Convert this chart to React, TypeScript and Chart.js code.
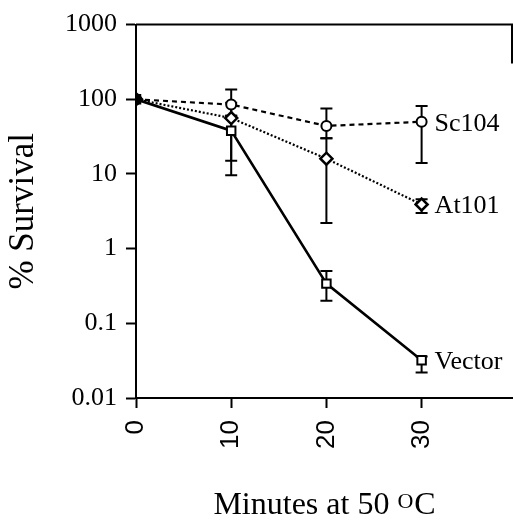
import React, { useEffect, useRef } from 'react';
import { Chart, registerables } from 'chart.js';
Chart.register(...registerables);

// ---- data ----
const minutes = [0, 10, 20, 30];
const seriesNames = ['Sc104', 'At101', 'Vector'];
const sc104 = [100, 85, 44, 50];
const sc104Low = [100, 60, 30, 14];
const sc104High = [100, 135, 75, 81];
const at101 = [100, 56, 16, 3.9];
const at101Low = [100, 15, 2.2, 3.0];
const at101High = [100, 90, 30, 4.6];
const vector = [100, 38, 0.34, 0.032];
const vectorLow = [100, 9.6, 0.2, 0.022];
const vectorHigh = [100, 60, 0.5, 0.036];
const xTicks = [0, 10, 20, 30];
const yTicks = [0.01, 0.1, 1, 10, 100, 1000];
const yTickLabels = ['0.01', '0.1', '1', '10', '100', '1000'];
const xTitleParts = ['Minutes at 50 ', 'O', 'C'];
const yTitle = '% Survival';

const SERIF = '"Liberation Serif", "Times New Roman", serif';
const SANS = '"Liberation Sans", Arial, sans-serif';

const lows = [sc104Low, at101Low, vectorLow];
const highs = [sc104High, at101High, vectorHigh];

const errorBarPlugin = {
  id: 'errorBars',
  beforeDatasetsDraw(chart: any) {
    const { ctx, scales } = chart;
    const xs = scales.x, ys = scales.y;
    ctx.save();
    ctx.strokeStyle = '#000';
    ctx.lineWidth = 2;
    ctx.setLineDash([]);
    lows.forEach((low, si) => {
      const high = highs[si];
      minutes.forEach((m, i) => {
        if (low[i] === high[i]) return;
        const px = xs.getPixelForValue(m);
        const y1 = ys.getPixelForValue(low[i]);
        const y2 = ys.getPixelForValue(high[i]);
        ctx.beginPath();
        ctx.moveTo(px, y1);
        ctx.lineTo(px, y2);
        ctx.moveTo(px - 6, y1);
        ctx.lineTo(px + 6, y1);
        ctx.moveTo(px - 6, y2);
        ctx.lineTo(px + 6, y2);
        ctx.stroke();
      });
    });
    ctx.restore();
  },
};

const labelsPlugin = {
  id: 'seriesLabels',
  afterDraw(chart: any) {
    const { ctx, scales, chartArea } = chart;
    const xs = scales.x, ys = scales.y;
    const series = [sc104, at101, vector];
    ctx.save();
    ctx.fillStyle = '#000';
    ctx.font = `26px ${SERIF}`;
    ctx.textAlign = 'left';
    ctx.textBaseline = 'middle';
    series.forEach((s, si) => {
      const last = s.length - 1;
      const px = xs.getPixelForValue(minutes[last]) + 13;
      const py = ys.getPixelForValue(s[last]) + 2;
      ctx.fillText(seriesNames[si], px, py);
    });
    // frame top line and right stub
    ctx.strokeStyle = '#000';
    ctx.lineWidth = 2;
    ctx.beginPath();
    ctx.moveTo(chartArea.left, chartArea.top);
    ctx.lineTo(chartArea.right, chartArea.top);
    ctx.moveTo(chartArea.right - 1, chartArea.top);
    ctx.lineTo(chartArea.right - 1, chartArea.top + 39);
    ctx.stroke();
    // x title with small raised O
    const bigFont = `32px ${SERIF}`;
    const smallFont = `22px ${SERIF}`;
    ctx.font = bigFont;
    const w0 = ctx.measureText(xTitleParts[0]).width;
    const w2 = ctx.measureText(xTitleParts[2]).width;
    ctx.font = smallFont;
    const w1 = ctx.measureText(xTitleParts[1]).width + 1;
    const total = w0 + w1 + w2;
    const cx = (chartArea.left + chartArea.right) / 2;
    const baseY = chart.height - 6;
    let x = cx - total / 2;
    ctx.textBaseline = 'alphabetic';
    ctx.font = bigFont;
    ctx.fillText(xTitleParts[0], x, baseY);
    x += w0;
    ctx.font = smallFont;
    ctx.fillText(xTitleParts[1], x, baseY - 6);
    x += w1;
    ctx.font = bigFont;
    ctx.fillText(xTitleParts[2], x, baseY);
    ctx.restore();
  },
};

export default function App() {
  const ref = useRef<HTMLCanvasElement>(null);
  useEffect(() => {
    if (!ref.current) return;
    const mk = (vals: number[]) => minutes.map((m, i) => ({ x: m, y: vals[i] }));
    const firstBlack = () => minutes.map((_, i) => (i === 0 ? '#000' : '#fff'));
    const chart = new Chart(ref.current, {
      type: 'line',
      data: {
        datasets: [
          {
            label: seriesNames[0],
            data: mk(sc104),
            borderColor: '#000',
            borderWidth: 2.2,
            borderDash: [5, 4],
            pointStyle: 'circle',
            pointRadius: 5,
            pointBorderWidth: 2,
            pointBorderColor: '#000',
            pointBackgroundColor: firstBlack(),
            fill: false,
          },
          {
            label: seriesNames[1],
            data: mk(at101),
            borderColor: '#000',
            borderWidth: 2.2,
            borderDash: [2, 2],
            pointStyle: 'rectRot',
            pointRadius: 6,
            pointBorderWidth: 2.5,
            pointBorderColor: '#000',
            pointBackgroundColor: firstBlack(),
            fill: false,
          },
          {
            label: seriesNames[2],
            data: mk(vector),
            borderColor: '#000',
            borderWidth: 2.6,
            pointStyle: 'rect',
            pointRadius: 6,
            pointBorderWidth: 2,
            pointBorderColor: '#000',
            pointBackgroundColor: firstBlack(),
            fill: false,
          },
        ],
      },
      options: {
        animation: false,
        responsive: false,
        devicePixelRatio: 1,
        layout: { autoPadding: false, padding: { top: 19, right: 0, bottom: 0, left: 0 } },
        plugins: { legend: { display: false }, tooltip: { enabled: false } },
        scales: {
          x: {
            type: 'linear',
            min: 0,
            max: 39.6,
            afterBuildTicks: (s: any) => {
              s.ticks = xTicks.map((v) => ({ value: v }));
            },
            afterFit: (s: any) => {
              s.height = 122;
              s.paddingRight = 0;
              s.paddingLeft = 0;
            },
            ticks: {
              autoSkip: false,
              minRotation: 90,
              maxRotation: 90,
              padding: 12,
              color: '#000',
              font: { family: SANS, size: 26 },
              callback: (v: any) => String(v),
            },
            grid: {
              drawOnChartArea: false,
              drawTicks: true,
              tickLength: 10,
              tickWidth: 2,
              tickColor: '#000',
            },
            border: { display: true, color: '#000', width: 2 },
          },
          y: {
            type: 'logarithmic',
            min: 0.01,
            max: 1000,
            afterBuildTicks: (s: any) => {
              s.ticks = yTicks.map((v) => ({ value: v }));
            },
            afterFit: (s: any) => {
              s.width = 136;
            },
            ticks: {
              autoSkip: false,
              padding: 9,
              color: '#000',
              font: { family: SERIF, size: 26 },
              callback: (v: any) => {
                const i = yTicks.indexOf(Number(v));
                return i >= 0 ? yTickLabels[i] : '';
              },
            },
            grid: {
              drawOnChartArea: false,
              drawTicks: true,
              tickLength: 10,
              tickWidth: 2,
              tickColor: '#000',
            },
            border: { display: true, color: '#000', width: 2 },
            title: {
              display: true,
              text: yTitle,
              color: '#000',
              font: { family: SERIF, size: 35 },
              padding: { top: 3, bottom: 0 },
            },
          },
        },
      },
      plugins: [errorBarPlugin, labelsPlugin],
    } as any);
    return () => chart.destroy();
  }, []);
  return (
    <div style={{ position: 'absolute', left: 0, top: 0, width: 513, height: 520, background: '#fff' }}>
      <canvas ref={ref} width={513} height={520} />
    </div>
  );
}
